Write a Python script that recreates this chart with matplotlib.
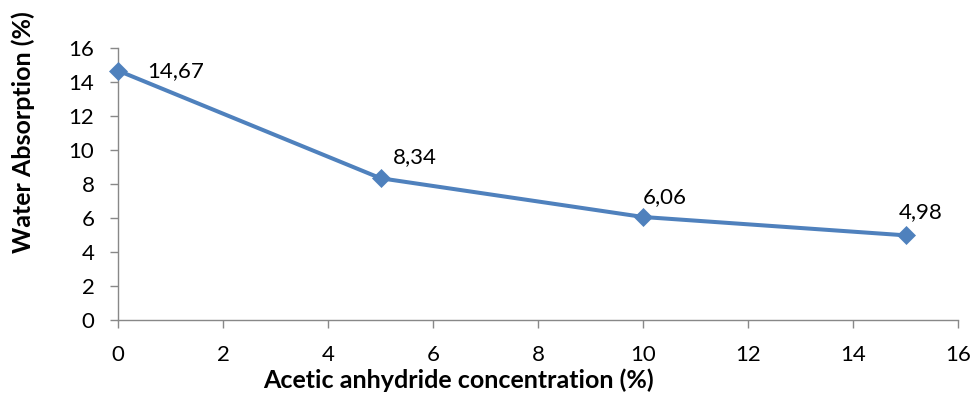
import matplotlib
matplotlib.use("Agg")
import matplotlib.pyplot as plt

conc = [0, 5, 10, 15]
absorption = [14.67, 8.34, 6.06, 4.98]
labels = ["14,67", "8,34", "6,06", "4,98"]
xticks = [0, 2, 4, 6, 8, 10, 12, 14, 16]
yticks = [0, 2, 4, 6, 8, 10, 12, 14, 16]

plt.rcParams['font.family'] = ['Lato', 'DejaVu Sans']

fig = plt.figure(figsize=(9.72, 3.94), dpi=100)
L, R, T, B = 118, 958, 48, 320
ax = fig.add_axes([L/972, 1-B/394, (R-L)/972, (B-T)/394])

color = '#4F81BD'
ax.plot(conc, absorption, color=color, lw=2.9, marker='D', ms=9.5, mew=0.5,
        markerfacecolor=color, markeredgecolor=color, clip_on=False, zorder=3)

# offsets in pixels (dx, dy up) converted to points
offsets_px = [(29, 0), (12, 21), (0, 20), (-7, 23)]
for x, y, t, (dx, dy) in zip(conc, absorption, labels, offsets_px):
    ax.annotate(t, (x, y), xytext=(dx * 0.72, dy * 0.72), textcoords='offset points',
                fontsize=16, ha='left', va='center', color='black')

ax.set_xlim(0, 16)
ax.set_ylim(0, 16)
ax.set_xticks(xticks)
ax.set_yticks(yticks)
ax.tick_params(labelsize=16, length=6, width=1, color='#888888', direction='out')
ax.tick_params(axis='y', pad=11)
ax.tick_params(axis='x', pad=12)

for s in ['top', 'right']:
    ax.spines[s].set_visible(False)
for s in ['left', 'bottom']:
    ax.spines[s].set_color('#888888')
    ax.spines[s].set_linewidth(1)

ax.set_xlabel('Acetic anhydride concentration (%)', fontsize=18, fontweight='bold')
ax.xaxis.set_label_coords((458 - L) / (R - L), (B - 380) / (B - T))
ax.xaxis.label.set_va('center')
ax.set_ylabel('Water Absorption (%)', fontsize=18, fontweight='bold')
ax.yaxis.set_label_coords((23 - L) / (R - L), (B - 132.5) / (B - T))
ax.yaxis.label.set_va('center')

fig.savefig('out.png', dpi=100)
